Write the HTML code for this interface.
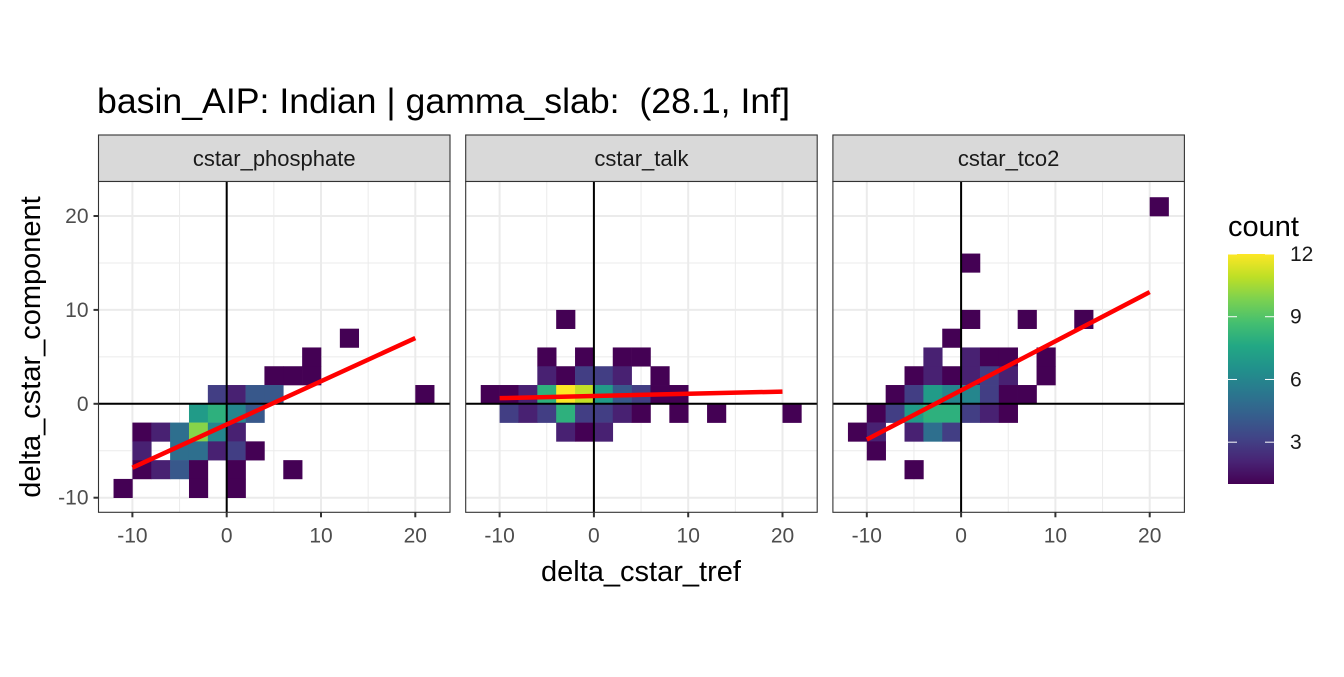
<!DOCTYPE html>
<html><head><meta charset="utf-8"><style>
body{margin:0;background:#fff;}
svg text{font-family:"Liberation Sans",sans-serif;}
</style></head><body>
<svg id="chart" width="1344" height="672" viewBox="0 0 1344 672" xmlns="http://www.w3.org/2000/svg">
<text x="97" y="113" font-size="35" fill="#000" textLength="693" lengthAdjust="spacingAndGlyphs">basin_AIP: Indian | gamma_slab: &#160;(28.1, Inf]</text>
<text x="641" y="581" font-size="29" fill="#000" text-anchor="middle">delta_cstar_tref</text>
<text transform="translate(40,347) rotate(-90)" font-size="29" fill="#000" text-anchor="middle">delta_cstar_component</text>
<g id="panels"></g>
<g id="legend">
<text x="1228" y="236" font-size="29" fill="#000">count</text>
<defs><linearGradient id="vg" x1="0" y1="1" x2="0" y2="0">
<stop offset="0" stop-color="#440154"/><stop offset="0.1" stop-color="#482475"/><stop offset="0.2" stop-color="#414487"/><stop offset="0.3" stop-color="#355f8d"/><stop offset="0.4" stop-color="#2a788e"/><stop offset="0.5" stop-color="#21918c"/><stop offset="0.6" stop-color="#22a884"/><stop offset="0.7" stop-color="#44bf70"/><stop offset="0.8" stop-color="#7ad151"/><stop offset="0.9" stop-color="#bddf26"/><stop offset="1" stop-color="#fde725"/></linearGradient></defs>
<rect x="1228" y="254" width="46" height="230" fill="url(#vg)"/>
</g>
</svg>
<script>
const NS='http://www.w3.org/2000/svg';
const facetNames=['cstar_phosphate','cstar_talk','cstar_tco2'];
const xTicks=[-10,0,10,20];
const yTicks=[-10,0,10,20];
const legendTicks=[3,6,9,12];
// bins: [xbin_start, ybin_start, count], bin width 2
const binsPhosphate=[[12,6,1],[8,4,1],[4,2,1],[6,2,1],[8,2,1],[-2,0,3],[0,0,2],[2,0,4],[4,0,4],[20,0,1],
[-4,-2,7],[-2,-2,8],[0,-2,6],[2,-2,4],
[-10,-4,1],[-8,-4,2],[-6,-4,5],[-4,-4,10],[-2,-4,6],[0,-4,2],
[-10,-6,2],[-6,-6,5],[-4,-6,5],[-2,-6,2],[0,-6,3],[2,-6,1],
[-10,-8,1],[-8,-8,2],[-6,-8,4],[-4,-8,1],[0,-8,1],[6,-8,1],
[-12,-10,1],[-4,-10,1],[0,-10,1]];
const binsTalk=[[-4,8,1],[-6,4,1],[-2,4,1],[2,4,1],[4,4,1],
[-6,2,2],[-4,2,1],[-2,2,3],[0,2,3],[2,2,2],[6,2,1],
[-12,0,1],[-10,0,1],[-8,0,2],[-6,0,8],[-4,0,12],[-2,0,11],[0,0,7],[2,0,4],[4,0,3],[6,0,1],[8,0,1],
[-10,-2,3],[-8,-2,2],[-6,-2,3],[-4,-2,8],[-2,-2,3],[0,-2,3],[2,-2,2],[4,-2,1],[8,-2,1],[12,-2,1],[20,-2,1],
[-4,-4,2],[-2,-4,1],[0,-4,2]];
const binsTco2=[[20,20,1],[0,14,1],[0,8,1],[6,8,1],[12,8,1],[-2,6,1],
[-4,4,2],[0,4,2],[2,4,1],[4,4,1],[8,4,1],
[-6,2,1],[-4,2,2],[-2,2,1],[0,2,2],[2,2,3],[4,2,2],[8,2,1],
[-8,0,1],[-6,0,3],[-4,0,7],[-2,0,6],[0,0,6],[2,0,3],[4,0,1],[6,0,1],
[-10,-2,1],[-8,-2,3],[-6,-2,7],[-4,-2,8],[-2,-2,8],[0,-2,3],[2,-2,2],[4,-2,1],
[-12,-4,1],[-10,-4,2],[-6,-4,2],[-4,-4,5],[-2,-4,3],
[-10,-6,1],[-6,-8,1]];
const allBins=[binsPhosphate,binsTalk,binsTco2];
const fitX=[-10,20];
const fitPhosphate=[-6.8,7.0];
const fitTalk=[0.6,1.3];
const fitTco2=[-3.8,11.9];
const fits=[fitPhosphate,fitTalk,fitTco2];

const panelW=351.5, panelStep=367.2, panelLeft=98.5, panelTop=181.5, panelBottom=512.3;
const xScale=9.43, yScale=9.39, yZero=403.8, x0off=128.2, cmin=1, cmax=12;
const vir=['#440154','#482475','#414487','#355f8d','#2a788e','#21918c','#22a884','#44bf70','#7ad151','#bddf26','#fde725'];
function hx(h){return [1,3,5].map(i=>parseInt(h.substr(i,2),16));}
function viridis(c){let t=Math.max(0,Math.min(1,(c-cmin)/(cmax-cmin)))*10;let i=Math.min(9,Math.floor(t)),f=t-i;const a=hx(vir[i]),b=hx(vir[i+1]);return 'rgb('+a.map((v,k)=>Math.round(v+(b[k]-v)*f)).join(',')+')';}
function mk(tag,attrs,parent){const e=document.createElementNS(NS,tag);for(const k in attrs)e.setAttribute(k,attrs[k]);parent.appendChild(e);return e;}
const root=document.getElementById('panels');
facetNames.forEach((name,p)=>{
  const L=panelLeft+p*panelStep;
  const sx=v=>L+x0off+v*xScale;
  const sy=v=>yZero-v*yScale;
  const g=mk('g',{},root);
  
  
  const strip=mk('rect',{x:L,y:135,width:panelW,height:46.5,fill:'#d9d9d9',stroke:'#333','stroke-width':1.1},g);
  
  
  const st=mk('text',{x:L+panelW/2,y:166,'font-size':22,'text-anchor':'middle',fill:'#1a1a1a'},g);st.textContent=name;
  
  
  mk('rect',{x:L,y:panelTop,width:panelW,height:panelBottom-panelTop,fill:'#fff'},g);
  [-15,-5,5,15,25].forEach(v=>{const x=sx(v);if(x>L&&x<L+panelW)mk('line',{x1:x,x2:x,y1:panelTop,y2:panelBottom,stroke:'#ebebeb','stroke-width':1},g);});
  [-5,5,15].forEach(v=>{mk('line',{x1:L,x2:L+panelW,y1:sy(v),y2:sy(v),stroke:'#ebebeb','stroke-width':1},g);});
  xTicks.forEach(v=>mk('line',{x1:sx(v),x2:sx(v),y1:panelTop,y2:panelBottom,stroke:'#ebebeb','stroke-width':2},g));
  yTicks.forEach(v=>mk('line',{x1:L,x2:L+panelW,y1:sy(v),y2:sy(v),stroke:'#ebebeb','stroke-width':2},g));
  allBins[p].forEach(b=>{
    const r=mk('rect',{x:sx(b[0]),y:sy(b[1]+2),width:2*xScale+0.3,height:2*yScale+0.3,fill:viridis(b[2])},g);
    
    
  });
  mk('line',{x1:sx(0),x2:sx(0),y1:panelTop,y2:panelBottom,stroke:'#000','stroke-width':2},g);
  mk('line',{x1:L,x2:L+panelW,y1:sy(0),y2:sy(0),stroke:'#000','stroke-width':2},g);
  const f=fits[p];
  const fl=mk('line',{x1:sx(fitX[0]),y1:sy(f[0]),x2:sx(fitX[1]),y2:sy(f[1]),stroke:'#ff0000','stroke-width':4.5},g);
  
  
  mk('rect',{x:L,y:panelTop,width:panelW,height:panelBottom-panelTop,fill:'none',stroke:'#333','stroke-width':1.1},g);
  xTicks.forEach(v=>{mk('line',{x1:sx(v),x2:sx(v),y1:panelBottom,y2:panelBottom+5,stroke:'#333','stroke-width':2},g);
    const t=mk('text',{x:sx(v),y:panelBottom+30,'font-size':21,'text-anchor':'middle',fill:'#4d4d4d'},g);t.textContent=v;
    
    });
  if(p===0){yTicks.forEach(v=>{mk('line',{x1:L-5,x2:L,y1:sy(v),y2:sy(v),stroke:'#333','stroke-width':2},g);
    const t=mk('text',{x:L-10,y:sy(v)+7,'font-size':21,'text-anchor':'end',fill:'#4d4d4d'},g);t.textContent=v;
    
    });}
});
const lg=document.getElementById('legend');
legendTicks.forEach(v=>{const y=484-(v-cmin)/(cmax-cmin)*230;
  mk('line',{x1:1228,x2:1237,y1:y,y2:y,stroke:'#fff','stroke-width':1},lg);
  mk('line',{x1:1265,x2:1274,y1:y,y2:y,stroke:'#fff','stroke-width':1},lg);
  const t=mk('text',{x:1290,y:y+7,'font-size':21,fill:'#1a1a1a'},lg);t.textContent=v;
  
  });
</script>
</body></html>
